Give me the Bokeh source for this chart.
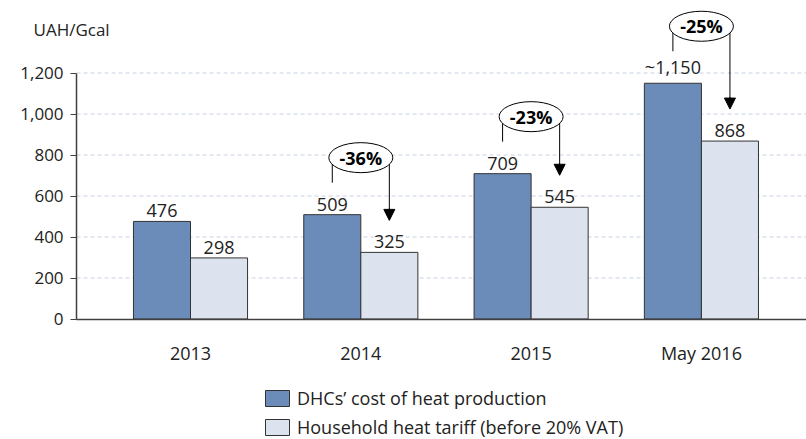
from bokeh.plotting import figure
from bokeh.models import (Range1d, LinearAxis, FixedTicker, NumeralTickFormatter,
                          Label, Arrow, NormalHead, Legend, LegendItem)
from bokeh.core.properties import value
from bokeh.embed import file_html
from bokeh.resources import INLINE

# ---------------- data ----------------
categories = ["2013", "2014", "2015", "May 2016"]
cost = [476, 509, 709, 1150]
tariff = [298, 325, 545, 868]
cost_labels = ["476", "509", "709", "~1,150"]
tariff_labels = ["298", "325", "545", "868"]
change_idx = [1, 2, 3]
change_labels = ["-36%", "-23%", "-25%"]
y_ticks = [0, 200, 400, 600, 800, 1000, 1200]
unit_label = "UAH/Gcal"
series_names = ["DHCs\u2019 cost of heat production",
                "Household heat tariff (before 20% VAT)"]

# ---------------- layout / style ----------------
W, H = 806, 439
FONT = value("Open Sans")
TXT = "#222222"
DARK = "#6b8bb9"
LIGHT = "#dde3ee"
EDGE = "#333333"
x_start, x_end = -1.1157, 3.617
y_start, y_end = -587.8, 1553.7
upp = (y_end - y_start) / H          # data units per screen pixel (y)
axis_x = -0.669                      # where the value axis sits
bar_w = 0.335
off = bar_w / 2

xs = list(range(len(categories)))

p = figure(width=W, height=H, output_backend="svg", toolbar_location=None,
           x_range=Range1d(x_start, x_end), y_range=Range1d(y_start, y_end),
           x_axis_location=None, y_axis_location=None,
           min_border=0, min_border_left=0, min_border_right=0,
           min_border_top=0, min_border_bottom=0, outline_line_color=None)
for g in p.grid:
    g.visible = False

# dashed gridlines
grid_y = y_ticks[1:]
p.segment(x0=[axis_x] * len(grid_y), x1=[x_end] * len(grid_y), y0=grid_y, y1=grid_y,
          line_color="#c9d3e3", line_width=1, line_dash="4 3")

# bars
r_dark = p.vbar(x=[x - off for x in xs], top=cost, width=bar_w, bottom=0,
                fill_color=DARK, line_color=EDGE, line_width=1)
r_light = p.vbar(x=[x + off for x in xs], top=tariff, width=bar_w, bottom=0,
                 fill_color=LIGHT, line_color=EDGE, line_width=1)

# value labels
p.text(x=[x - off for x in xs], y=cost, text=cost_labels, text_align="center",
       text_baseline="bottom", y_offset=-4, text_font=FONT,
       text_font_size=value("18px"), text_color=TXT)
p.text(x=[x + off for x in xs], y=tariff, text=tariff_labels, text_align="center",
       text_baseline="bottom", y_offset=-4, text_font=FONT,
       text_font_size=value("18px"), text_color=TXT)

# change callouts
ell_dy = 57 * upp
line_dy = 32 * upp
tip_dy = 32 * upp
cx = [xs[i] for i in change_idx]
ey = [cost[i] + ell_dy for i in change_idx]
p.segment(x0=[c - off for c in cx], x1=[c - off for c in cx],
          y0=ey, y1=[cost[i] + line_dy for i in change_idx],
          line_color="black", line_width=1)
p.segment(x0=[c + off for c in cx], x1=[c + off for c in cx],
          y0=ey, y1=[tariff[i] + tip_dy + 10 * upp for i in change_idx],
          line_color="black", line_width=1)
p.ellipse(x=cx, y=ey, width=64, height=30, width_units="screen", height_units="screen",
          fill_color="white", line_color="black", line_width=1)
p.text(x=cx, y=ey, text=change_labels, text_align="center", text_baseline="middle",
       text_font=FONT, text_font_size=value("18px"), text_font_style="bold",
       text_color="black")
for i in change_idx:
    p.add_layout(Arrow(x_start=xs[i] + off, y_start=tariff[i] + tip_dy + 12 * upp,
                       x_end=xs[i] + off, y_end=tariff[i] + tip_dy,
                       line_color="black", line_width=1,
                       end=NormalHead(size=11, fill_color="black", line_color="black")))

# axes
xaxis = LinearAxis(fixed_location=0, ticker=FixedTicker(ticks=xs),
                   major_label_overrides={i: c for i, c in enumerate(categories)},
                   bounds=(axis_x, x_end),
                   major_tick_in=0, major_tick_out=0, minor_tick_in=0, minor_tick_out=0,
                   axis_line_color="#404040", axis_line_width=1.5,
                   major_label_standoff=22,
                   major_label_text_font="Open Sans", major_label_text_font_size="18px",
                   major_label_text_color=TXT)
p.add_layout(xaxis, "below")

yaxis = LinearAxis(fixed_location=axis_x, ticker=FixedTicker(ticks=y_ticks),
                   formatter=NumeralTickFormatter(format="0,0"),
                   bounds=(y_ticks[0], y_ticks[-1]),
                   major_tick_in=0, major_tick_out=6, minor_tick_in=0, minor_tick_out=0,
                   major_tick_line_color="#404040",
                   axis_line_color="#404040", axis_line_width=1.5,
                   major_label_standoff=7,
                   major_label_text_font="Open Sans", major_label_text_font_size="17px",
                   major_label_text_color=TXT)
p.add_layout(yaxis, "left")

# unit label
p.add_layout(Label(x=-0.922, y=(318.5 - 29) * upp, text=unit_label,
                   text_font="Open Sans", text_font_size="17px", text_color=TXT,
                   text_baseline="middle"))

# legend
legend = Legend(items=[LegendItem(label=series_names[0], renderers=[r_dark]),
                       LegendItem(label=series_names[1], renderers=[r_light])],
                location=(262, 0), glyph_width=30, glyph_height=20, spacing=5,
                padding=0, margin=0, label_standoff=5,
                label_text_font="Open Sans", label_text_font_size="18px",
                label_text_color=TXT, border_line_alpha=0, background_fill_alpha=0)
p.add_layout(legend, "center")

open("out.html", "w").write(file_html(p, INLINE))
